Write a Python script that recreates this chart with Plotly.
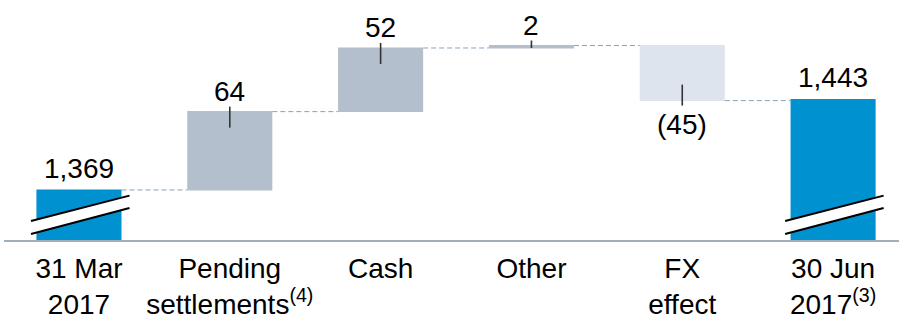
import plotly.graph_objects as go

categories = ["31 Mar<br>2017", "Pending<br>settlements<sup>(4)</sup>", "Cash", "Other",
              "FX<br>effect", "30 Jun<br>2017<sup>(3)</sup>"]
values = [1369, 64, 52, 2, -45, 1443]
measures = ["absolute", "relative", "relative", "relative", "relative", "absolute"]
labels = ["1,369", "64", "52", "2", "(45)", "1,443"]

BLUE = "#0091d0"
GREY = "#b3bfcc"
LIGHT = "#dde4ee"
FONT = "Liberation Sans, Arial, sans-serif"
PX_PER_UNIT = 1.224

fig = go.Figure()
fig.add_trace(go.Waterfall(
    x=categories, y=values, measure=measures,
    width=0.564,
    increasing=dict(marker=dict(color=GREY)),
    decreasing=dict(marker=dict(color=LIGHT)),
    totals=dict(marker=dict(color=BLUE)),
    connector=dict(line=dict(color="#8aa2bb", width=1, dash="5px,3px"), mode="between"),
    hoverinfo="skip",
))

# compute bar extents from the data
tops, bottoms = [], []
running = 0
for v, m in zip(values, measures):
    if m == "absolute":
        running = v
        tops.append(v); bottoms.append(None)
    else:
        start = running
        running += v
        tops.append(max(start, running)); bottoms.append(min(start, running))

# label tick lines and annotations
lx, ly = [], []
out_units = 5 / PX_PER_UNIT
in_units = 16 / PX_PER_UNIT
annotations = []
lab_font = dict(size=28, color="#000", family=FONT)
for i, (c, v, m, lab) in enumerate(zip(categories, values, measures, labels)):
    if m == "absolute":
        annotations.append(dict(x=c, y=tops[i], xref="x", yref="y", text=lab, showarrow=False,
                                yanchor="bottom", yshift=4, font=lab_font))
    elif v >= 0:
        lx += [c, c, None]
        ly += [tops[i] + out_units, max(tops[i] - in_units, bottoms[i]), None]
        annotations.append(dict(x=c, y=tops[i], xref="x", yref="y", text=lab, showarrow=False,
                                yanchor="bottom", yshift=3, font=lab_font))
    else:
        lx += [c, c, None]
        ly += [bottoms[i] - out_units, min(bottoms[i] + in_units, tops[i]), None]
        annotations.append(dict(x=c, y=bottoms[i], xref="x", yref="y", text=lab, showarrow=False,
                                yanchor="top", yshift=-6, font=lab_font))

fig.add_trace(go.Scatter(x=lx, y=ly, mode="lines", line=dict(color="#333333", width=1.6),
                         hoverinfo="skip", showlegend=False))

# axis-break marks on the total bars
shapes = []
for i, m in enumerate(measures):
    if m != "absolute":
        continue
    xl, xr = i - 0.318, i + 0.335
    ul, ur = 0.079, 0.185
    ll, lr = 0.025, 0.133
    shapes.append(dict(type="path", xref="x", yref="paper",
                       path=f"M {xl},{ul} L {xr},{ur} L {xr},{lr} L {xl},{ll} Z",
                       fillcolor="white", line=dict(width=0)))
    shapes.append(dict(type="line", xref="x", yref="paper", x0=xl, y0=ul, x1=xr, y1=ur,
                       line=dict(color="black", width=2)))
    shapes.append(dict(type="line", xref="x", yref="paper", x0=xl, y0=ll, x1=xr, y1=lr,
                       line=dict(color="black", width=2)))

fig.update_layout(
    width=899, height=315,
    margin=dict(l=4, r=0, t=0, b=75, autoexpand=False),
    paper_bgcolor="white", plot_bgcolor="white",
    showlegend=False,
    font=dict(family=FONT, color="#000"),
    annotations=annotations,
    shapes=shapes,
)
fig.update_xaxes(type="category", range=[-0.497, 5.437], showgrid=False, zeroline=False,
                 automargin=False,
                 showline=True, linecolor="#a3aebb", linewidth=2, ticks="",
                 ticklabelstandoff=2,
                 tickfont=dict(size=28, color="#000", family=FONT))
fig.update_yaxes(visible=False, automargin=False, range=[1328.1, 1524.2],
                 showgrid=False, zeroline=False)

fig.write_html("out.html", config={"displayModeBar": False},
               post_script="document.documentElement.style.overflow='hidden';"
                           "document.body.style.margin='0';document.body.style.overflow='hidden';")
